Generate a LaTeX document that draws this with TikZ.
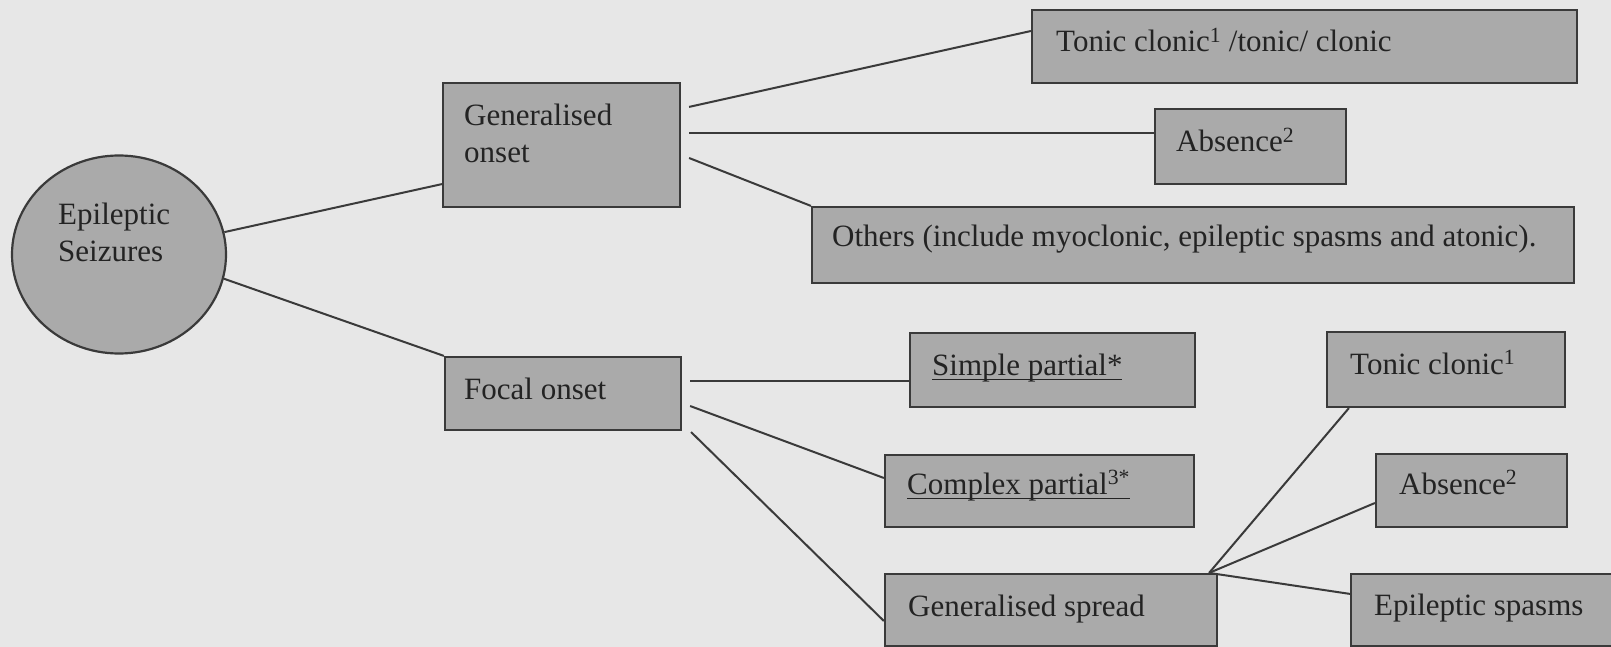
\documentclass[tikz,border=0pt]{standalone}
\usepackage{fontspec}
\setmainfont{Liberation Serif}
\usetikzlibrary{shapes.geometric,fit}
\definecolor{paper}{RGB}{231,231,231}
\definecolor{boxfill}{RGB}{170,170,170}
\definecolor{edge}{RGB}{58,58,58}
\definecolor{ink}{RGB}{35,35,35}
% underline at a fixed depth below the baseline
\newlength\ulwd
\newcommand\ulined[1]{\settowidth\ulwd{#1}\rlap{\rule[-0.17em]{\ulwd}{0.055em}}#1}
\begin{document}
\begin{tikzpicture}[x=1pt,y=-1pt,
  box/.style={draw=edge, fill=boxfill, line width=2.2pt, rectangle, inner sep=0pt},
  lbl/.style={anchor=base west, inner sep=0pt, text=ink, font=\fontsize{31}{37}\selectfont},
  link/.style={draw=edge, line width=2pt}]
\useasboundingbox (0,0) rectangle (1611,647);
\fill[paper] (0,0) rectangle (1611,647);

% root
\node[draw=edge, fill=boxfill, line width=2.2pt, ellipse, minimum width=214pt,
      minimum height=198pt, inner sep=0pt] (circ) at (119,254.5) {};

% first level
\node[box, fit={(443,83) (680,207)}] (gen) {};
\node[box, fit={(445,357) (681,430)}] (focal) {};

% generalised onset types
\node[box, fit={(1032,10) (1577,83)}] (tonicA) {};
\node[box, fit={(1155,109) (1346,184)}] (absA) {};
\node[box, fit={(812,207) (1574,283)}] (others) {};

% focal onset types
\node[box, fit={(910,333) (1195,407)}] (simple) {};
\node[box, fit={(885,455) (1194,527)}] (complex) {};
\node[box, fit={(885,574) (1217,646)}] (spread) {};

% secondary generalisation
\node[box, fit={(1327,332) (1565,407)}] (tonicB) {};
\node[box, fit={(1376,454) (1567,527)}] (absB) {};
\node[box, fit={(1351,574) (1625,646)}] (espasm) {};

% labels
\node[lbl] (tEpi) at (58,224) {Epileptic};
\node[lbl] (tSei) at (58,261) {Seizures};
\node[lbl] (tGen1) at (464,126) {Generalised};
\node[lbl] (tGen2) at (464,163) {onset};
\node[lbl] (tFoc) at (464,399) {Focal onset};
\node[lbl] (tTcA) at (1056,52) {Tonic clonic\textsuperscript{1} /tonic/ clonic};
\node[lbl] (tAbA) at (1176,152) {Absence\textsuperscript{2}};
\node[lbl] (tOth) at (832,247) {Others (include myoclonic, epileptic spasms and atonic).};
\node[lbl] (tSim) at (932,375) {\ulined{Simple partial*}};
\node[lbl] (tCom) at (907,494) {\ulined{Complex partial\textsuperscript{3*}}};
\node[lbl] (tSpr) at (908,616) {Generalised spread};
\node[lbl] (tTcB) at (1350,374) {Tonic clonic\textsuperscript{1}};
\node[lbl] (tAbB) at (1399,494) {Absence\textsuperscript{2}};
\node[lbl] (tEsp) at (1374,615) {Epileptic spasms};

% fan-out points
\coordinate (g1) at ([xshift=8pt,yshift=-25pt]gen.north east);
\coordinate (g2) at ([xshift=8pt,yshift=12pt]gen.east);
\coordinate (g3) at ([xshift=8pt,yshift=-13pt]gen.east);
\coordinate (f1) at ([xshift=8pt,yshift=12.5pt]focal.east);
\coordinate (f2) at ([xshift=8pt,yshift=-12.5pt]focal.east);
\coordinate (f3) at ([xshift=9pt,yshift=-1pt]focal.south east);
\coordinate (jn) at ([xshift=-9pt]spread.north east);

% connectors
\draw[link] (circ.12) -- ([yshift=24pt]gen.south west);
\draw[link] (circ.-13.5) -- (focal.north west);
\draw[link] (g1) -- ([yshift=15.5pt]tonicA.west);
\draw[link] (g2) -- ([yshift=13.5pt]absA.west);
\draw[link] (g3) -- (others.north west);
\draw[link] (f1) -- ([yshift=-11pt]simple.west);
\draw[link] (f2) -- ([yshift=13pt]complex.west);
\draw[link] (f3) -- ([yshift=-11pt]spread.west);
\draw[link] (jn) -- ([xshift=23pt]tonicB.south west);
\draw[link] (jn) -- ([yshift=-12.5pt]absB.west);
\draw[link] (jn) -- ([yshift=-21pt]espasm.north west);
\end{tikzpicture}
\end{document}
